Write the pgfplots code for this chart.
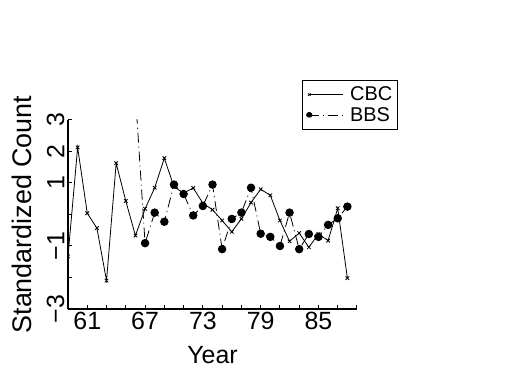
\documentclass[border=0pt]{standalone}
\usepackage{fontspec}
\setmainfont{Liberation Sans}
\usepackage{pgfplots}
\pgfplotsset{compat=1.18}
\begin{document}
\begin{tikzpicture}
\path[use as bounding box] (-68bp,-66bp) rectangle (457bp,309bp);
\begin{axis}[
  at={(0,0)}, anchor=south west,
  scale only axis, width=289bp, height=189bp,
  xmin=59, xmax=89, ymin=-3, ymax=3,
  axis x line*=bottom, axis y line*=left,
  axis line style={-, line width=1.6bp},
  tick align=inside, major tick length=4bp,
  tick style={black, line width=1bp},
  xtick={59,61,...,89},
  xticklabels={,61,,,67,,,73,,,79,,,85,,},
  ytick={-3,-2,-1,0,1,2,3},
  yticklabels={−3,,−1,,1,2,3},
  /pgf/number format/assume math mode=true,
  ticklabel style={font=\fontsize{25}{25}\selectfont},
  yticklabel style={rotate=90, anchor=south},
  xlabel={Year}, ylabel={Standardized Count},
  xlabel style={font=\fontsize{25}{25}\selectfont, at={(axis description cs:0.5,-0.243)}, anchor=center},
  ylabel style={font=\fontsize{27}{27}\selectfont, at={(axis description cs:-0.159,0.5)}, anchor=center},
  clip marker paths=true,
  legend style={at={(axis description cs:0.81,1.212)}, anchor=north west,
    draw=black, line width=1bp, inner xsep=4bp, inner ysep=5bp,
    column sep=5bp, row sep=2bp,
    nodes={font=\fontsize{20}{20}\selectfont, inner sep=1.5bp}, cells={anchor=west}},
  legend image code/.code={
    \draw[mark repeat=3, mark phase=1, #1, mark options={scale=0.7}] plot coordinates {(0bp,0bp)(17bp,0bp)(34bp,0bp)};
  },
]
\addplot[black, line width=0.8bp, mark=x, mark size=2.5bp, mark options={solid, line width=0.8bp}]
coordinates {
(59,-1.33) (60,2.13) (61,0.04) (62,-0.43) (63,-2.10) (64,1.63) (65,0.43) (66,-0.67)
(67,0.18) (68,0.85) (69,1.79) (70,0.88) (71,0.68) (72,0.84) (73,0.36) (74,0.15)
(75,-0.19) (76,-0.55) (77,-0.14) (78,0.38) (79,0.80) (80,0.61) (81,-0.19) (82,-0.85)
(83,-0.59) (84,-1.04) (85,-0.62) (86,-0.83) (87,0.20) (88,-2.02)
};
\addlegendentry{CBC}
\addplot[black, line width=0.8bp, dash pattern=on 10bp off 4bp on 1bp off 4bp,
  mark=*, mark size=3.8bp, mark options={solid}]
coordinates {
(66,3.8) (67,-0.91) (68,0.06) (69,-0.23) (70,0.95) (71,0.65) (72,-0.03) (73,0.27)
(74,0.95) (75,-1.10) (76,-0.14) (77,0.06) (78,0.85) (79,-0.61) (80,-0.71) (81,-1.00)
(82,0.06) (83,-1.10) (84,-0.62) (85,-0.71) (86,-0.33) (87,-0.12) (88,0.25)
};
\addlegendentry{BBS}
\end{axis}
\end{tikzpicture}
\end{document}
